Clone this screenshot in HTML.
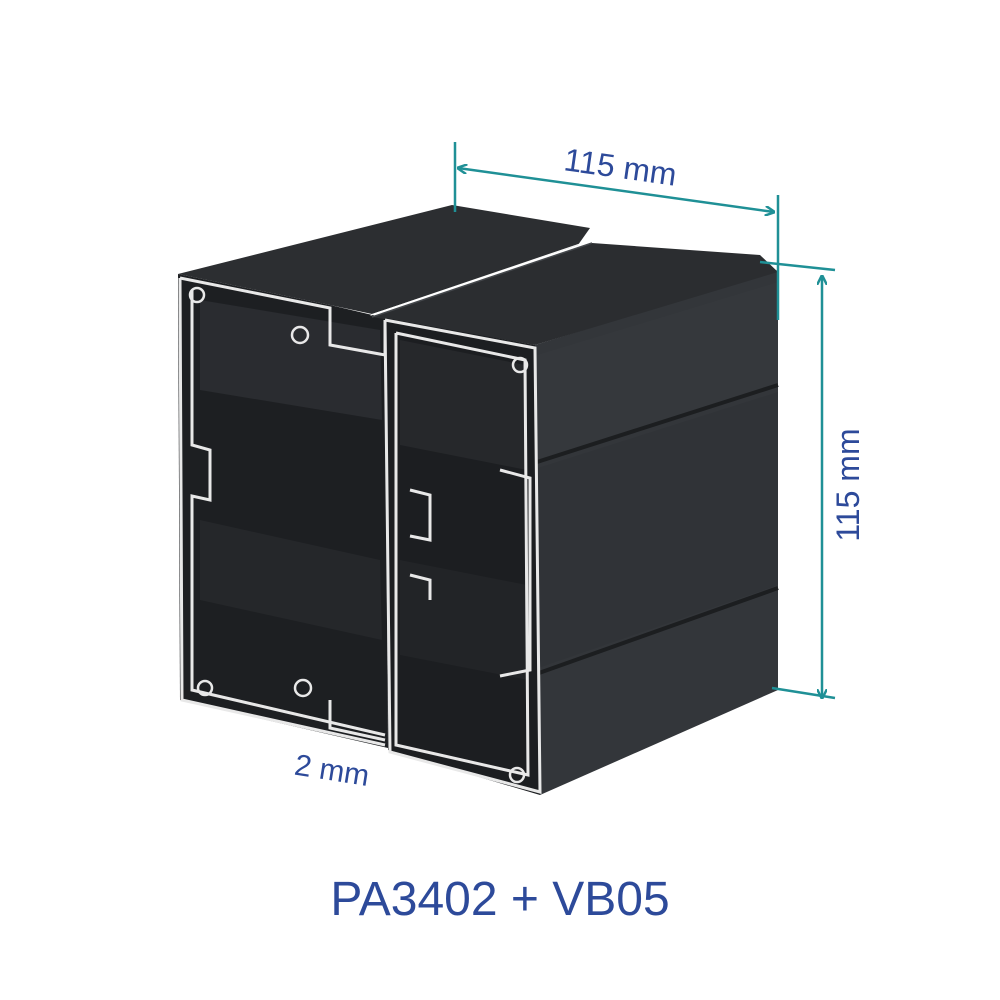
<!DOCTYPE html>
<html><head><meta charset="utf-8"><style>
html,body{margin:0;padding:0;background:#fff;}
svg{display:block;}
text{font-family:"Liberation Sans",sans-serif;fill:#2d4a9a;}
</style></head><body>
<svg width="1000" height="1000" viewBox="0 0 1000 1000" xmlns="http://www.w3.org/2000/svg">
<defs>
<marker id="ar" markerWidth="10" markerHeight="10" refX="9" refY="5" orient="auto-start-reverse" markerUnits="userSpaceOnUse">
<path d="M0,0 L10,5 L0,10" fill="none" stroke="#1f9096" stroke-width="2.5"/>
</marker>
</defs>
<!-- left part top face -->
<polygon points="178,274 452,205 590,228 578,245 372,314 330,305" fill="#2c2e31"/>
<!-- left part front (cross-section interior) -->
<polygon points="178,274 330,305 385,318 388,748 180,700" fill="#1d1f22"/>
<polygon points="200,300 380,330 382,420 200,390" fill="#2a2c30"/>
<polygon points="200,520 380,560 382,640 200,600" fill="#25272a"/>
<!-- right box side face -->
<polygon points="535,345 778,270 778,690 540,795" fill="#33363a"/>
<polygon points="537,355 778,282 778,385 537,462" fill="#35383c"/>
<polygon points="538,468 778,392 778,585 538,668" fill="#303337"/>
<line x1="537" y1="462" x2="778" y2="385" stroke="#1c1e20" stroke-width="4"/>
<line x1="539" y1="673" x2="778" y2="588" stroke="#1c1e20" stroke-width="4"/>
<!-- gap between tops -->
<polygon points="578,245 590,240 372,314 370,316" fill="#fff"/>
<!-- right box top face -->
<polygon points="372,317 592,243 760,255 778,272 535,345" fill="#2b2d30"/>
<line x1="372" y1="317" x2="592" y2="243" stroke="#45484c" stroke-width="1.5"/>
<!-- right box front -->
<polygon points="385,318 535,345 540,795 388,750" fill="#1c1e21"/>
<polygon points="400,340 525,365 527,470 400,445" fill="#26282b"/>
<polygon points="400,560 527,585 528,680 400,655" fill="#222427"/>
<!-- white outlines -->
<g fill="none" stroke="#e8e8e8" stroke-width="3">
<polyline points="180,278 330,308 330,345 385,355 385,320"/>
<polyline points="180,278 182,700 385,745"/>
<polyline points="192,290 192,445 210,450 210,500 192,496 192,690 385,735"/>
<polyline points="385,320 535,348 540,792 390,752 385,320"/>
<polyline points="396,333 396,745 528,775 525,360 396,333"/>
<polyline points="330,700 330,728 385,740"/>
<polyline points="500,470 530,478 530,670 500,676"/>
<polyline points="410,490 430,495 430,540 410,536"/>
<polyline points="410,575 430,580 430,600"/>
</g>
<g fill="none" stroke="#e8e8e8" stroke-width="2.5">
<circle cx="197" cy="295" r="7"/><circle cx="300" cy="335" r="8"/>
<circle cx="520" cy="365" r="7"/><circle cx="205" cy="688" r="7"/>
<circle cx="303" cy="688" r="8"/><circle cx="517" cy="775" r="7"/>
</g>
<!-- dimension lines -->
<g stroke="#1f9096" stroke-width="2.5" fill="none">
<line x1="455" y1="142" x2="455" y2="212"/>
<line x1="778" y1="195" x2="778" y2="320"/>
<line x1="458" y1="168" x2="774" y2="212" marker-start="url(#ar)" marker-end="url(#ar)"/>
<line x1="760" y1="262" x2="835" y2="270"/>
<line x1="772" y1="688" x2="835" y2="698"/>
<line x1="822" y1="276" x2="822" y2="698" marker-start="url(#ar)" marker-end="url(#ar)"/>
</g>
<text x="620" y="178" font-size="32" text-anchor="middle" transform="rotate(8 620 170)">115 mm</text>
<text x="848" y="485" font-size="32" text-anchor="middle" transform="rotate(-90 848 485)" dy="11">115 mm</text>
<text x="332" y="780" font-size="30" text-anchor="middle" transform="rotate(9 330 770)">2 mm</text>
<text x="500" y="915" font-size="48" text-anchor="middle">PA3402 + VB05</text>
</svg>
</body></html>
